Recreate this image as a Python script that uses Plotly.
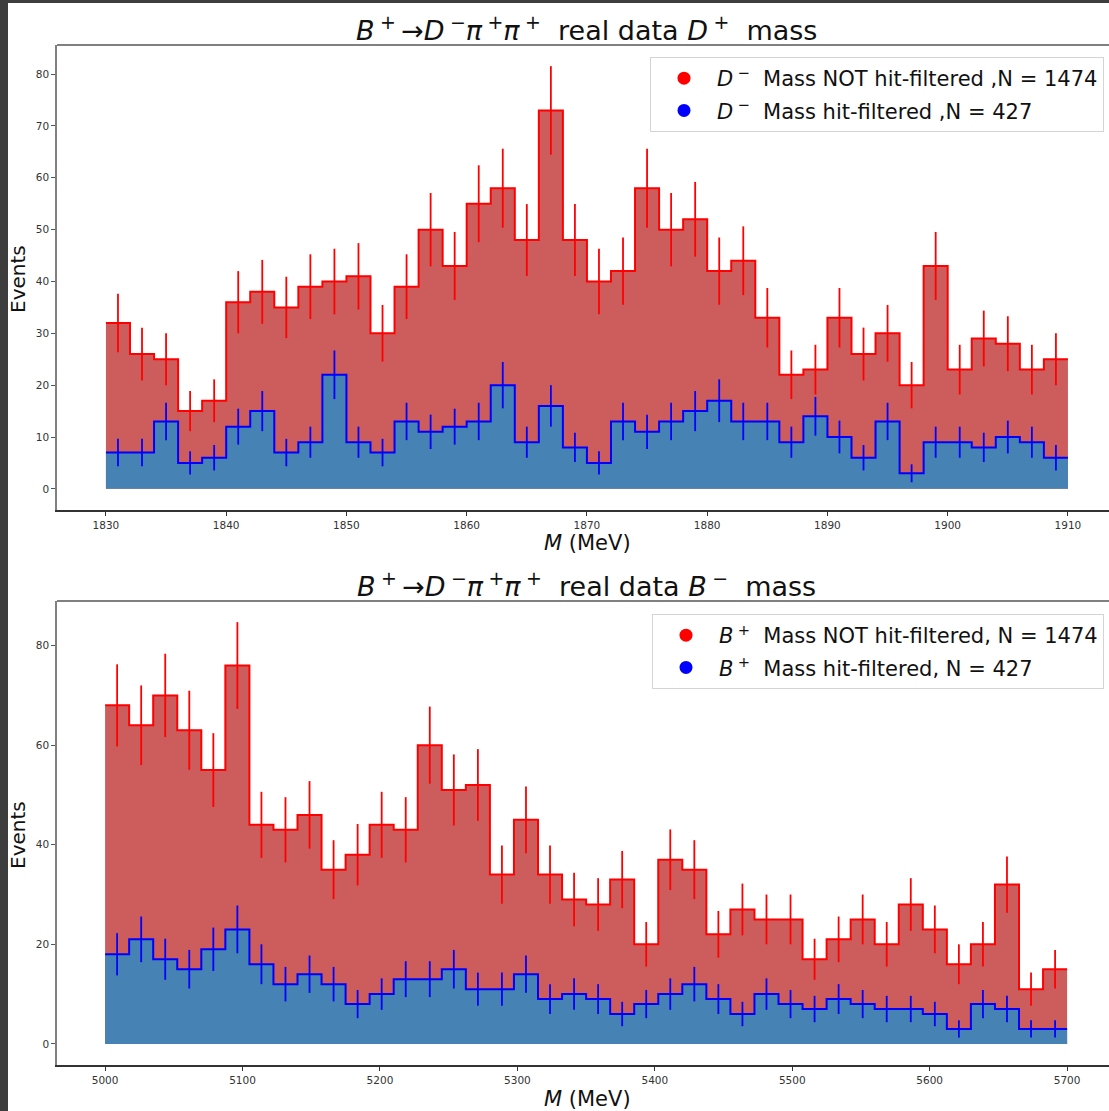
import numpy as np
import plotly.graph_objects as go

# ---------------- data ----------------
D_EDGES = np.linspace(1830, 1910, 41)
D_NOT_FILTERED = [32, 26, 25, 15, 17, 36, 38, 35, 39, 40,
                  41, 30, 39, 50, 43, 55, 58, 48, 73, 48,
                  40, 42, 58, 50, 52, 42, 44, 33, 22, 23,
                  33, 26, 30, 20, 43, 23, 29, 28, 23, 25]
D_FILTERED = [7, 7, 13, 5, 6, 12, 15, 7, 9, 22,
              9, 7, 13, 11, 12, 13, 20, 9, 16, 8,
              5, 13, 11, 13, 15, 17, 13, 13, 9, 14,
              10, 6, 13, 3, 9, 9, 8, 10, 9, 6]

B_EDGES = np.linspace(5000, 5700, 41)
B_NOT_FILTERED = [68, 64, 70, 63, 55, 76, 44, 43, 46, 35,
                  38, 44, 43, 60, 51, 52, 34, 45, 34, 29,
                  28, 33, 20, 37, 35, 22, 27, 25, 25, 17,
                  21, 25, 20, 28, 23, 16, 20, 32, 11, 15]
B_FILTERED = [18, 21, 17, 15, 19, 23, 16, 12, 14, 12,
              8, 10, 13, 13, 15, 11, 11, 14, 9, 10,
              9, 6, 8, 10, 12, 9, 6, 10, 8, 7,
              9, 8, 7, 7, 6, 3, 8, 7, 3, 3]

D_XTICKS = list(range(1830, 1911, 10))
D_YTICKS = list(range(0, 81, 10))
B_XTICKS = list(range(5000, 5701, 100))
B_YTICKS = list(range(0, 81, 20))

TS = "\u2009"   # thin space
NB = "\u00a0"
DECAY = (f"<i>B</i>{TS}<sup>+</sup>{TS}→<i>D</i>{TS}<sup>−</sup><i>π</i>{TS}<sup>+</sup>"
         f"<i>π</i>{TS}<sup>+</sup>{NB} real data ")
D_TITLE = DECAY + f"<i>D</i>{TS}<sup>+</sup>{NB} mass"
B_TITLE = DECAY + f"<i>B</i>{TS}<sup>−</sup>{NB} mass"
D_LABELS = [f"<i>D</i>{TS}<sup>−</sup>{NB} Mass NOT hit-filtered ,N = 1474",
            f"<i>D</i>{TS}<sup>−</sup>{NB} Mass hit-filtered ,N = 427"]
B_LABELS = [f"<i>B</i>{TS}<sup>+</sup>{NB} Mass NOT hit-filtered, N = 1474",
            f"<i>B</i>{TS}<sup>+</sup>{NB} Mass hit-filtered, N = 427"]

# ---------------- layout geometry (pixels) ----------------
W, H = 1109, 1111
ML, MR, MT, MB = 57, 0, 45, 46
PW = W - ML - MR
PH = H - MT - MB


def px_x(p):
    return (p - ML) / PW


def px_y(p):
    return (H - MB - p) / PH


FONT = "DejaVu Sans, Liberation Sans, sans-serif"
RED_FILL = "#CD5C5C"
BLUE_FILL = "#4682B4"
RED_LINE = "#FF0000"
BLUE_LINE = "#0000FF"

fig = go.Figure()


def add_hist(edges, counts, fill, line, xa, ya):
    edges = np.asarray(edges, dtype=float)
    counts = np.asarray(counts, dtype=float)
    fig.add_trace(go.Scatter(
        x=edges, y=np.append(counts, counts[-1]),
        mode="lines", line=dict(shape="hv", color=line, width=2),
        fill="tozeroy", fillcolor=fill, showlegend=False,
        hoverinfo="skip", xaxis=xa, yaxis=ya))


def add_err(edges, counts, line, xa, ya):
    edges = np.asarray(edges, dtype=float)
    counts = np.asarray(counts, dtype=float)
    centers = (edges[:-1] + edges[1:]) / 2
    fig.add_trace(go.Scatter(
        x=centers, y=counts, mode="markers",
        marker=dict(size=2, color=line, opacity=0),
        error_y=dict(type="data", array=np.sqrt(counts), color=line,
                     thickness=1.8, width=0),
        showlegend=False, xaxis=xa, yaxis=ya))


add_hist(D_EDGES, D_NOT_FILTERED, RED_FILL, RED_LINE, "x", "y")
add_hist(D_EDGES, D_FILTERED, BLUE_FILL, BLUE_LINE, "x", "y")
add_err(D_EDGES, D_NOT_FILTERED, RED_LINE, "x", "y")
add_err(D_EDGES, D_FILTERED, BLUE_LINE, "x", "y")

add_hist(B_EDGES, B_NOT_FILTERED, RED_FILL, RED_LINE, "x2", "y2")
add_hist(B_EDGES, B_FILTERED, BLUE_FILL, BLUE_LINE, "x2", "y2")
add_err(B_EDGES, B_NOT_FILTERED, RED_LINE, "x2", "y2")
add_err(B_EDGES, B_FILTERED, BLUE_LINE, "x2", "y2")

# legend entries
for i, (name, col) in enumerate(zip(D_LABELS, [RED_LINE, BLUE_LINE])):
    fig.add_trace(go.Scatter(x=[None], y=[None], mode="markers",
                             marker=dict(color=col, size=13), name=name,
                             legendgroup=f"d{i}",
                             legend="legend", xaxis="x", yaxis="y"))
for i, (name, col) in enumerate(zip(B_LABELS, [RED_LINE, BLUE_LINE])):
    fig.add_trace(go.Scatter(x=[None], y=[None], mode="markers",
                             marker=dict(color=col, size=13), name=name,
                             legendgroup=f"b{i}",
                             legend="legend2", xaxis="x2", yaxis="y2"))

TICKFONT = dict(family=FONT, size=10.5, color="#333333")
common_x = dict(showline=True, linecolor="#333333", linewidth=1.8, mirror=False,
                ticks="outside", ticklen=4, tickcolor="#333333", tickwidth=1,
                showgrid=False, zeroline=False, tickfont=TICKFONT)
common_y = dict(showline=True, linecolor="#808080", linewidth=1.5, mirror=False,
                ticks="outside", ticklen=4, tickcolor="#555555", tickwidth=1,
                showgrid=False, zeroline=False, tickfont=TICKFONT)

top_dom = [px_y(510), px_y(45)]
bot_dom = [px_y(1065), px_y(601)]

legend_common = dict(xanchor="right", yanchor="top", x=px_x(1104),
                     bgcolor="rgba(255,255,255,0.85)", bordercolor="#d4d4d4",
                     borderwidth=1, font=dict(family=FONT, size=21, color="#111"),
                     itemwidth=56, traceorder="grouped", tracegroupgap=2)

fig.update_layout(
    width=W, height=H,
    margin=dict(l=ML, r=MR, t=MT, b=MB),
    paper_bgcolor="#3d3d3d", plot_bgcolor="white",
    xaxis=dict(domain=[0, 1], range=[1825.93, 1825.93 + PW / 12.025],
               tickvals=D_XTICKS, anchor="y", **common_x),
    yaxis=dict(domain=top_dom, range=[-4.08, 85.62], tickvals=D_YTICKS,
               anchor="x", **common_y),
    xaxis2=dict(domain=[0, 1], range=[4965, 4965 + PW / 1.3743],
                tickvals=B_XTICKS, anchor="y2", **common_x),
    yaxis2=dict(domain=bot_dom, range=[-4.24, 88.96], tickvals=B_YTICKS,
                anchor="x2", **common_y),
    legend=dict(y=px_y(57), **legend_common),
    legend2=dict(y=px_y(614), **legend_common),
    shapes=[
        dict(type="rect", xref="paper", yref="paper", layer="below",
             x0=px_x(8), x1=px_x(W + 5), y0=px_y(H + 5), y1=px_y(3),
             fillcolor="white", line=dict(width=0)),
        dict(type="line", xref="paper", yref="paper", layer="above",
             x0=0, x1=1, y0=top_dom[1], y1=top_dom[1],
             line=dict(color="#808080", width=2)),
        dict(type="line", xref="paper", yref="paper", layer="above",
             x0=0, x1=1, y0=bot_dom[1], y1=bot_dom[1],
             line=dict(color="#808080", width=2)),
    ],
)

annots = []
for title, yc in [(D_TITLE, 28), (B_TITLE, 584)]:
    annots.append(dict(text=title, xref="paper", yref="paper",
                       x=px_x(586), y=px_y(yc), xanchor="center", yanchor="middle",
                       showarrow=False, font=dict(family=FONT, size=27, color="#111")))
for yc in [543, 1099]:
    annots.append(dict(text="<i>M</i> (MeV)", xref="paper", yref="paper",
                       x=px_x(587), y=px_y(yc), xanchor="center", yanchor="middle",
                       showarrow=False, font=dict(family=FONT, size=21, color="#111")))
for yc in [279, 835]:
    annots.append(dict(text="Events", xref="paper", yref="paper", textangle=-90,
                       x=px_x(18), y=px_y(yc), xanchor="center", yanchor="middle",
                       showarrow=False, font=dict(family=FONT, size=20, color="#111")))
fig.update_layout(annotations=annots)

fig.write_html("out.html", config={"displayModeBar": False},
               post_script="document.body.style.margin='0';document.body.style.overflow='hidden';")
